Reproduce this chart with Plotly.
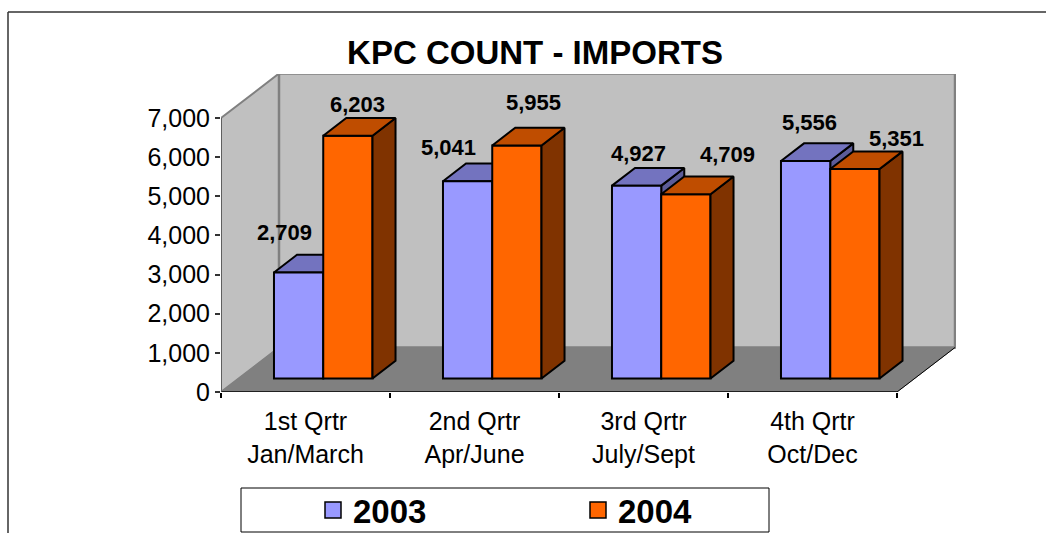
import plotly.graph_objects as go

CATEGORIES = ["1st Qrtr<br>Jan/March", "2nd Qrtr<br>Apr/June", "3rd Qrtr<br>July/Sept", "4th Qrtr<br>Oct/Dec"]
SERIES_NAMES = ["2003", "2004"]
VALUES_2003 = [2709, 5041, 4927, 5556]
VALUES_2004 = [6203, 5955, 4709, 5351]
Y_TICKS = [0, 1000, 2000, 3000, 4000, 5000, 6000, 7000]

# label offsets in pixels from the front-top centre of each bar
LABEL_SHIFT_2003 = [(-14, 40), (-19, 34), (2, 32), (4, 39)]
LABEL_SHIFT_2004 = [(10, 31), (17, 43), (42, 40), (42, 31)]

W, H = 1046, 533
PX_L, PX_R, PX_T, PX_B = 221, 956, 74, 392
PX_PER_CAT = 169.0
PX_PER_UNIT = 274 / 7000
DEPTH_PX = (58.0, 44.5)
DX = DEPTH_PX[0] / PX_PER_CAT
DY = DEPTH_PX[1] / PX_PER_UNIT
Z1, Z2 = 0.303, 0.70
GAP, BW = 0.2095, 0.2915
X_MAX = (PX_R - PX_L) / PX_PER_CAT
Y_MAX = (PX_B - PX_T) / PX_PER_UNIT

WALL, FLOOR, EDGE = "#C0C0C0", "#808080", "#808080"
COLORS = {
    "2003": dict(front="#9999FF", top="#7373BF", side="#5C5C99"),
    "2004": dict(front="#FF6600", top="#BF4D00", side="#803300"),
}
BAR_LINE = 2


def fx(px):
    return (px - PX_L) / (PX_R - PX_L)


def fy(px):
    return (PX_B - px) / (PX_B - PX_T)


def proj(x, v, z):
    return x + z * DX, v + z * DY


def poly(points, fill, line, width, axes="xy"):
    xs, ys = zip(*(points + points[:1]))
    return go.Scatter(x=xs, y=ys, mode="lines", fill="toself", fillcolor=fill,
                      line=dict(color=line, width=width), hoverinfo="skip",
                      showlegend=False, xaxis="x" if axes == "xy" else "x2",
                      yaxis="y" if axes == "xy" else "y2", cliponaxis=False)


def seg(points, color, width):
    xs, ys = zip(*points)
    return go.Scatter(x=xs, y=ys, mode="lines", line=dict(color=color, width=width),
                      hoverinfo="skip", showlegend=False, cliponaxis=False)


fig = go.Figure()
n = len(CATEGORIES)
TOP = Y_TICKS[-1]

# walls and floor
fig.add_trace(poly([proj(0, 0, 0), proj(0, 0, 1), proj(0, TOP, 1), proj(0, TOP, 0)], WALL, EDGE, 2))
fig.add_trace(poly([proj(0, 0, 1), proj(n, 0, 1), proj(n, TOP, 1), proj(0, TOP, 1)], WALL, EDGE, 2.5))
fig.add_trace(poly([proj(0, 0, 0), proj(n, 0, 0), proj(n, 0, 1), proj(0, 0, 1)], FLOOR, FLOOR, 1))
fig.add_trace(seg([proj(n, 0, 0), proj(n, 0, 1)], "#000000", 1))
fig.add_trace(seg([proj(0, 0, 0), proj(n, 0, 0)], "#000000", 1.5))
fig.add_trace(seg([proj(0, 0, 0), proj(0, TOP, 0)], "#555555", 1.5))


def box_faces(x0, x1, v, colors, axes):
    fig.add_trace(poly([proj(x1, 0, Z1), proj(x1, 0, Z2), proj(x1, v, Z2), proj(x1, v, Z1)],
                       colors["side"], "#000000", BAR_LINE, axes))
    fig.add_trace(poly([proj(x0, v, Z1), proj(x1, v, Z1), proj(x1, v, Z2), proj(x0, v, Z2)],
                       colors["top"], "#000000", BAR_LINE, axes))


# 2003 side and top sit under every front face
for i, v in enumerate(VALUES_2003):
    box_faces(i + GAP, i + GAP + BW, v, COLORS["2003"], "xy")

# front faces: real bars on an overlaid axis pair
for j, (name, vals) in enumerate(zip(SERIES_NAMES, [VALUES_2003, VALUES_2004])):
    centres = [i + GAP + BW * (j + 0.5) + Z1 * DX for i in range(n)]
    fig.add_trace(go.Bar(x=centres, y=vals, base=[Z1 * DY] * n, width=BW, name=name,
                         marker=dict(color=COLORS[name]["front"], line=dict(color="#000000", width=BAR_LINE)),
                         showlegend=False, xaxis="x2", yaxis="y2", hoverinfo="skip"))

# 2004 side and top sit over the 2003 faces
for i, v in enumerate(VALUES_2004):
    box_faces(i + GAP + BW, i + GAP + 2 * BW, v, COLORS["2004"], "x2y2")

# legend keys
for name in SERIES_NAMES:
    fig.add_trace(go.Scatter(x=[None], y=[None], mode="markers", name=name,
                             marker=dict(symbol="square", size=20, color=COLORS[name]["front"],
                                         line=dict(color="#000000", width=1.5))))

annotations = []
for j, (vals, shifts) in enumerate([(VALUES_2003, LABEL_SHIFT_2003), (VALUES_2004, LABEL_SHIFT_2004)]):
    for i, (v, (sx, sy)) in enumerate(zip(vals, shifts)):
        x, y = proj(i + GAP + BW * (j + 0.5), v, Z1)
        annotations.append(dict(x=x, y=y, xref="x", yref="y", text=f"{v:,}", showarrow=False,
                                xshift=sx, yshift=sy,
                                font=dict(family="Liberation Sans", size=22, color="#000000", weight="bold")))

x_range = [0, X_MAX]
y_range = [0, Y_MAX]
fig.update_layout(
    width=W, height=H, autosize=False,
    margin=dict(l=PX_L, r=W - PX_R, t=PX_T, b=H - PX_B, pad=0),
    paper_bgcolor="#FFFFFF", plot_bgcolor="rgba(0,0,0,0)",
    barmode="overlay",
    font=dict(family="Liberation Sans", color="#000000"),
    title=dict(text="<b>KPC COUNT - IMPORTS</b>", x=535 / W, xanchor="center", y=1 - 52 / H, yanchor="middle",
               font=dict(size=33, family="Liberation Sans", color="#000000")),
    xaxis=dict(range=x_range, tickmode="array", tickvals=[i + 0.5 for i in range(n)], ticktext=CATEGORIES,
               ticks="", showgrid=False, zeroline=False, showline=False, ticklabelstandoff=12,
               tickfont=dict(size=25, family="Liberation Sans", color="#000000"),
               minor=dict(tickmode="array", tickvals=list(range(n + 1)), ticks="outside", ticklen=5,
                          tickcolor="#000000", tickwidth=1.5, showgrid=False)),
    yaxis=dict(range=y_range, tickmode="array", tickvals=Y_TICKS, ticktext=[f"{t:,}" for t in Y_TICKS],
               ticks="outside", ticklen=5, tickcolor="#333333", tickwidth=1.5, showgrid=False,
               zeroline=False, showline=False,
               tickfont=dict(size=25, family="Liberation Sans", color="#000000")),
    xaxis2=dict(range=x_range, overlaying="x", visible=False),
    yaxis2=dict(range=y_range, overlaying="y", visible=False),
    showlegend=True,
    legend=dict(orientation="h", xref="container", yref="container", x=313 / W, y=1 - 510 / H,
                xanchor="left", yanchor="middle",
                entrywidth=220, entrywidthmode="pixels", bgcolor="rgba(0,0,0,0)", borderwidth=0,
                font=dict(size=33, family="Liberation Sans", color="#000000", weight="bold")),
    annotations=annotations,
    shapes=[
        dict(type="rect", xref="paper", yref="paper", x0=fx(241), x1=fx(769), y0=fy(532), y1=fy(488),
             line=dict(color="#000000", width=1), fillcolor="#FFFFFF", layer="below"),
        dict(type="line", xref="paper", yref="paper", x0=fx(8), x1=fx(1046), y0=fy(12), y1=fy(12),
             line=dict(color="#333333", width=1.5)),
        dict(type="line", xref="paper", yref="paper", x0=fx(8), x1=fx(8), y0=fy(12), y1=fy(533),
             line=dict(color="#333333", width=1.5)),
    ],
)
fig.write_html("out.html", config=dict(displayModeBar=False),
               post_script="document.body.style.margin='0';document.body.style.overflow='hidden';")
